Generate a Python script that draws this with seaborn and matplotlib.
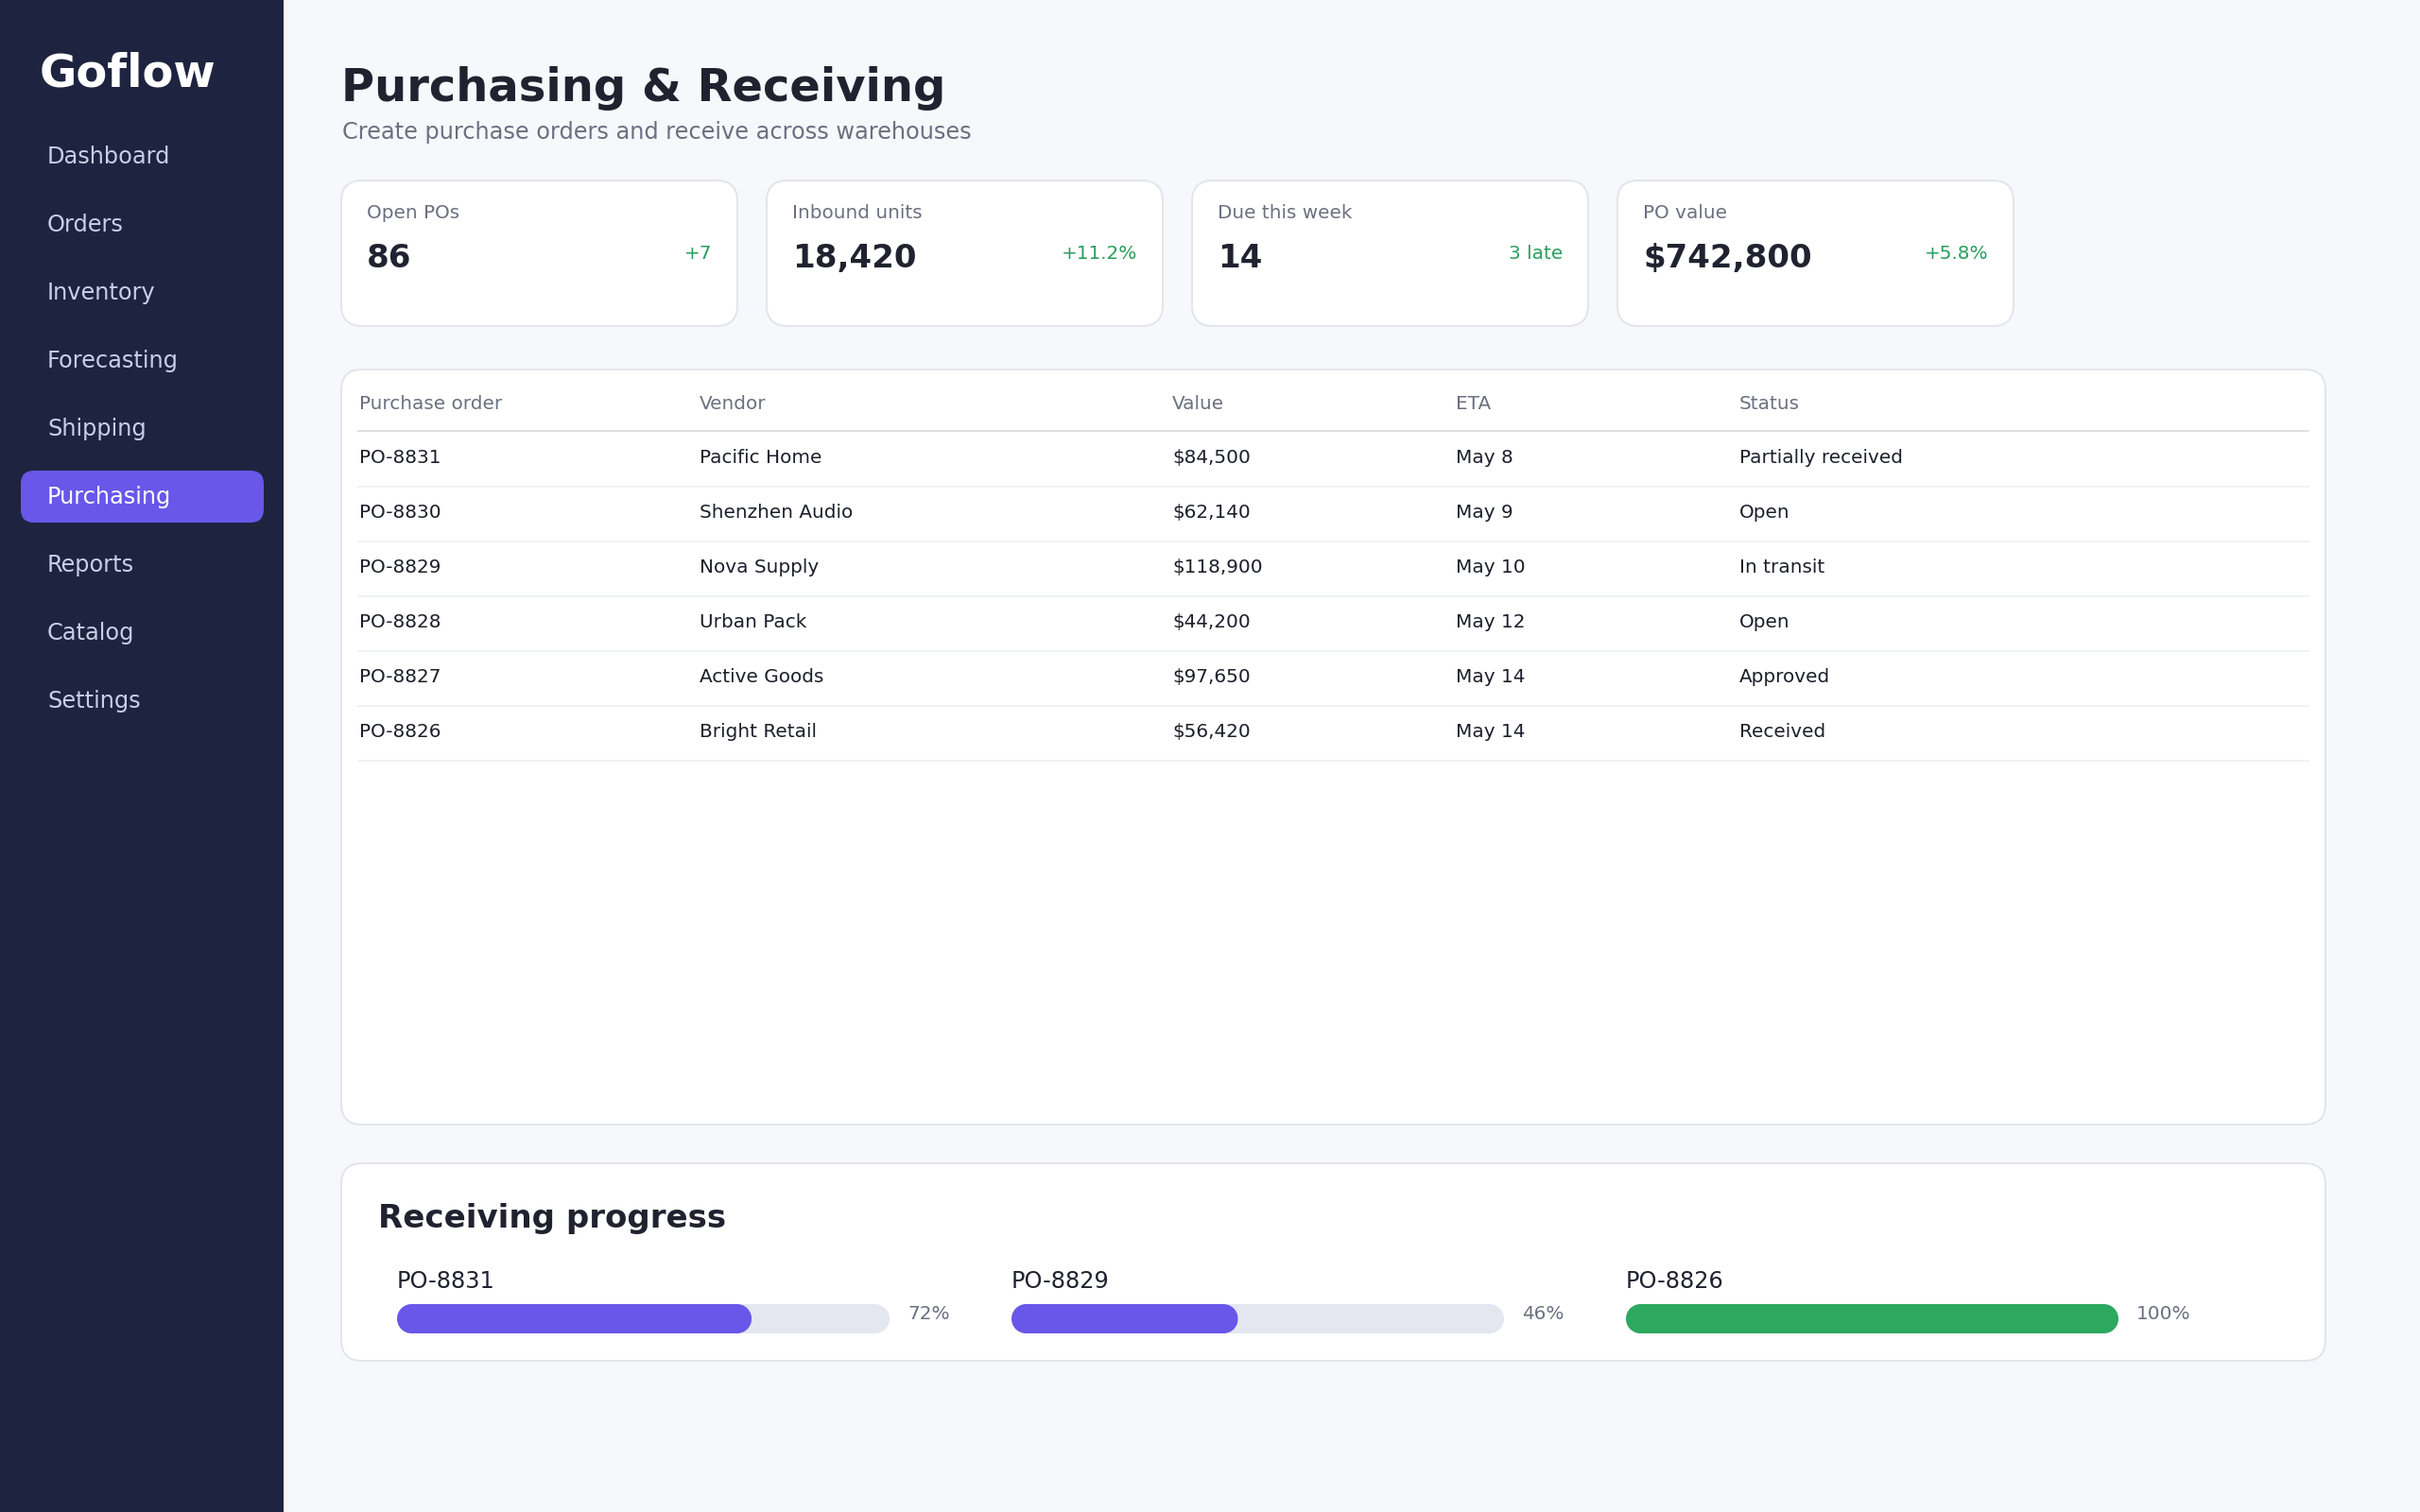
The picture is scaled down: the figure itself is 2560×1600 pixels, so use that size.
import matplotlib
matplotlib.use("Agg")
import matplotlib.pyplot as plt
from matplotlib.patches import FancyBboxPatch, Rectangle
from matplotlib.path import Path
from matplotlib.transforms import IdentityTransform
import numpy as np
import pandas as pd
import seaborn as sns

# Page content
brand = "Goflow"
nav_items = ["Dashboard", "Orders", "Inventory", "Forecasting", "Shipping",
             "Purchasing", "Reports", "Catalog", "Settings"]
active_item = "Purchasing"
page_title = "Purchasing & Receiving"
page_subtitle = "Create purchase orders and receive across warehouses"

kpi_labels = ["Open POs", "Inbound units", "Due this week", "PO value"]
kpi_values = ["86", "18,420", "14", "$742,800"]
kpi_deltas = ["+7", "+11.2%", "3 late", "+5.8%"]

table_columns = ["Purchase order", "Vendor", "Value", "ETA", "Status"]
po_numbers = ["PO-8831", "PO-8830", "PO-8829", "PO-8828", "PO-8827", "PO-8826"]
vendors = ["Pacific Home", "Shenzhen Audio", "Nova Supply", "Urban Pack", "Active Goods", "Bright Retail"]
po_values = ["$84,500", "$62,140", "$118,900", "$44,200", "$97,650", "$56,420"]
etas = ["May 8", "May 9", "May 10", "May 12", "May 14", "May 14"]
statuses = ["Partially received", "Open", "In transit", "Open", "Approved", "Received"]

progress_title = "Receiving progress"
progress_pos = ["PO-8831", "PO-8829", "PO-8826"]
progress_pct = [72, 46, 100]
progress_colors = ["#6857e8", "#6857e8", "#2ca85f"]

# Colours
BG = "#f7f8fc"
SIDEBAR = "#1e2440"
NAV_TEXT = "#c9cfe6"
BORDER = "#e3e5ea"
DARK = "#20232f"
MUTED = "#6b7080"
GREEN = "#2a9d5c"
TRACK = "#e4e6f0"
INK = "#1c1f2a"

sns.set_theme(style="white")
plt.rcParams["font.family"] = ["DejaVu Sans"]

W, H = 2560, 1600
fig = plt.figure(figsize=(W / 100, H / 100), dpi=100, facecolor=BG)

# one axes in pixel units for the page furniture
page = fig.add_axes([0, 0, 1, 1])
page.set_xlim(0, W)
page.set_ylim(H, 0)
page.set_axis_off()


def px(size):
    return size * 0.72


def label(x, y, s, size, color, weight="normal", ha="left"):
    page.text(x, y, s, fontsize=px(size), color=color, fontweight=weight, ha=ha, va="baseline")


def panel(x0, y0, x1, y1, radius, face="white", edge=BORDER, lw=2):
    box = FancyBboxPatch((x0, y0), x1 - x0, y1 - y0,
                         boxstyle=f"round,pad=0,rounding_size={radius}",
                         facecolor=face, edgecolor=edge, linewidth=px(lw))
    page.add_patch(box)


def pill_path(x0, y0, w, h):
    # capsule outline with true half circles at both ends
    r = h / 2
    left = Path.arc(90, 270)
    right = Path.arc(-90, 90)
    verts = np.vstack([left.vertices * r + [x0 + r, y0 + r],
                       right.vertices * r + [x0 + w - r, y0 + r],
                       [[x0 + r, y0 + h]]])
    codes = np.concatenate([left.codes, right.codes, [Path.CLOSEPOLY]])
    codes[len(left.codes)] = Path.LINETO
    return Path(verts, codes)


# Sidebar
page.add_patch(Rectangle((0, 0), 300, H, facecolor=SIDEBAR, edgecolor="none"))
label(42, 91, brand, 48, "white", weight="bold")
for i, item in enumerate(nav_items):
    if item == active_item:
        panel(22, 498, 279, 553, 14, face="#6857e8", edge="none", lw=0)
    label(50, 173 + i * 72, item, 24, "white" if item == active_item else NAV_TEXT)

# Header
label(361, 107, page_title, 48, DARK, weight="bold")
label(362, 147, page_subtitle, 24, MUTED)

# KPI cards
for i in range(len(kpi_labels)):
    x0 = 361 + i * 450
    panel(x0, 191, x0 + 419, 345, 22)
    label(x0 + 27, 231, kpi_labels[i], 20, MUTED)
    label(x0 + 27, 283, kpi_values[i], 34, DARK, weight="bold")
    label(x0 + 392, 274, kpi_deltas[i], 20, GREEN, ha="right")

# Table
panel(361, 391, 2460, 1190, 22)
column_x = [380, 740, 1240, 1540, 1840]
for x, name in zip(column_x, table_columns):
    label(x, 433, name, 20, MUTED)
page.plot([378, 2443], [456, 456], color="#dfe1e8", lw=px(2), solid_capstyle="butt")
table_rows = list(zip(po_numbers, vendors, po_values, etas, statuses))
for r, row in enumerate(table_rows):
    for x, cell in zip(column_x, row):
        label(x, 490 + r * 58, cell, 20, INK)
    line_y = 515 + r * 58
    page.plot([378, 2443], [line_y, line_y], color="#eef0f4", lw=px(1.6), solid_capstyle="butt")
page.set_xlim(0, W)
page.set_ylim(H, 0)

# Receiving progress
panel(361, 1231, 2460, 1440, 22)
label(400, 1299, progress_title, 34, DARK, weight="bold")

progress = pd.DataFrame({"po": progress_pos, "pct": progress_pct})
bar_axes = []
for i, row in progress.iterrows():
    x0 = 420 + i * 650
    label(x0, 1363, row["po"], 24, DARK)
    label(x0 + 540, 1396, f"{row['pct']}%", 20, MUTED)

    ax = fig.add_axes([x0 / W, 1 - 1411 / H, 521 / W, 31 / H])
    sns.barplot(x=[100], y=[row["po"]], color=TRACK, width=1, saturation=1, ax=ax, orient="h")
    sns.barplot(x=[row["pct"]], y=[row["po"]], color=progress_colors[i], width=1, saturation=1, ax=ax, orient="h")
    ax.set_xlim(0, 100)
    ax.set_ylim(0.5, -0.5)
    ax.set_axis_off()
    bar_axes.append(ax)

# round the bar ends, the bars themselves stay the seaborn ones
fig.canvas.draw()
for ax in bar_axes:
    for bar in ax.patches:
        e = bar.get_window_extent()
        bar.set_linewidth(0)
        bar.set_snap(False)
        bar.set_clip_path(pill_path(e.x0, e.y0, e.width, e.height), IdentityTransform())

fig.savefig("out.png", dpi=100, facecolor=BG)
